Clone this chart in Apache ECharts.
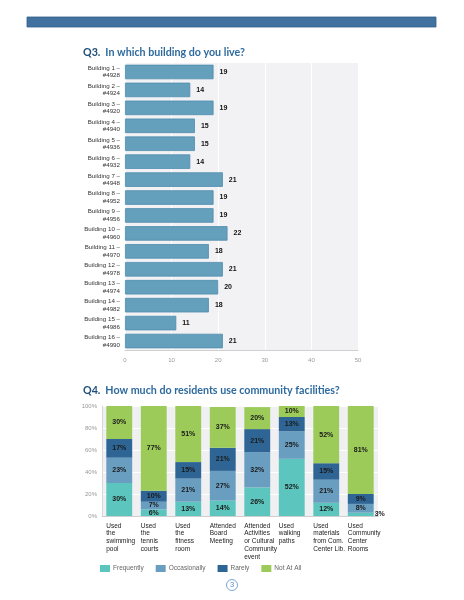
<!DOCTYPE html>
<html><head><meta charset="utf-8">
<script src="https://cdn.jsdelivr.net/npm/echarts@6/dist/echarts.min.js"></script>
<style>html,body{margin:0;padding:0;background:#fff}#c{width:464px;height:600px}</style>
</head><body><div id="c"></div>
<script>
// ---- Q3 data ----
const buildings = ['Building 1 –\n#4928','Building 2 –\n#4924','Building 3 –\n#4920','Building 4 –\n#4940','Building 5 –\n#4936','Building 6 –\n#4932','Building 7 –\n#4948','Building 8 –\n#4952','Building 9 –\n#4956','Building 10 –\n#4960','Building 11 –\n#4970','Building 12 –\n#4978','Building 13 –\n#4974','Building 14 –\n#4982','Building 15 –\n#4986','Building 16 –\n#4990'];
const residents = [19,14,19,15,15,14,21,19,19,22,18,21,20,18,11,21];
const q3Ticks = [0,10,20,30,40,50];

// ---- Q4 data ----
const facilities = ['Used\nthe\nswimming\npool','Used\nthe\ntennis\ncourts','Used\nthe\nfitness\nroom','Attended\nBoard\nMeeting','Attended\nActivities\nor Cultural\nCommunity\nevent','Used\nwalking\npaths','Used\nmaterials\nfrom Com.\nCenter Lib.','Used\nCommunity\nCenter\nRooms'];
const frequently   = [30, 6,13,14,26,52,12, 3];
const occasionally = [23, 7,21,27,32,25,21, 8];
const rarely       = [17,10,15,21,21,13,15, 9];
const notAtAll     = [30,77,51,37,20,10,52,81];
const seriesNames = ['Frequently','Occasionally','Rarely','Not At All'];
const q4Ticks = [0,20,40,60,80,100];

const colors = ['#5CC6BE','#6A9EC0','#2E6594','#9CCB5A'];
const chartFont = 'Liberation Sans';
const lbl = {show:true, position:'inside', formatter:'{c}%', fontFamily:chartFont, fontSize:7, fontWeight:'bold', color:'#1a1a1a'};

const chart = echarts.init(document.getElementById('c'), null, {renderer:'canvas'});
const q4Series = [frequently, occasionally, rarely, notAtAll].map((arr,i)=>({
  name: seriesNames[i], type:'bar', stack:'q4', xAxisIndex:1, yAxisIndex:1,
  barCategoryGap:'25%',
  itemStyle:{color:colors[i]},
  label: lbl,
  data: arr.map((v,j)=> (i===0 && j===7) ? {value:v, label:{position:'right', distance:1}} : v)
}));

const titleRich = {b:{fontFamily:'Lato',fontSize:10.7,fontWeight:'bold',color:'#1F4E79'},n:{fontFamily:'Lato',fontSize:10.7,color:'#2E6A9E'}};

chart.setOption({
  animation:false,
  backgroundColor:'#fff',
  title:[
    {text:'{b|Q3.} {n|In which building do you live?}', left:83, top:44, padding:0, textStyle:{rich:titleRich}},
    {text:'{b|Q4.} {n|How much do residents use community facilities?}', left:83, top:382, padding:0, textStyle:{rich:titleRich}}
  ],
  legend:{
    data:seriesNames, left:100, top:565, padding:0, itemWidth:10, itemHeight:7, itemGap:12,
    icon:'rect',
    textStyle:{fontFamily:chartFont, fontSize:6.5, color:'#666', padding:[0,0,0,-2]}
  },
  grid:[
    {left:125, top:63, width:233, height:287, show:true, backgroundColor:'#F2F2F5', borderWidth:0},
    {left:102, top:406, width:276, height:110, show:true, backgroundColor:'#F0F0F3', borderWidth:0}
  ],
  xAxis:[
    {type:'value', gridIndex:0, min:q3Ticks[0], max:q3Ticks[q3Ticks.length-1], interval:10,
     axisLine:{show:true, lineStyle:{color:'#d0d0d0'}}, axisTick:{show:false},
     splitLine:{show:true, lineStyle:{color:'#ffffff', width:1}},
     axisLabel:{fontFamily:chartFont, fontSize:6, color:'#999', margin:7}},
    {type:'category', gridIndex:1, data:facilities,
     axisLine:{show:true, lineStyle:{color:'#cfcfcf'}}, axisTick:{show:false},
     axisLabel:{interval:0, margin:6, align:'center', color:'#222', fontFamily:chartFont, fontSize:6.5, lineHeight:7.8,
       formatter:v=>v.split('\n').map(s=>'{a|'+s+'}').join('\n'),
       rich:{a:{align:'left', width:26, fontFamily:chartFont, fontSize:6.5, lineHeight:7.8, color:'#222'}}}}
  ],
  yAxis:[
    {type:'category', gridIndex:0, inverse:true, data:buildings,
     axisLine:{show:false}, axisTick:{show:false},
     axisLabel:{fontFamily:chartFont, fontSize:6.2, lineHeight:7.6, color:'#333', margin:5, align:'right'}},
    {type:'value', gridIndex:1, min:q4Ticks[0], max:q4Ticks[q4Ticks.length-1], interval:20,
     axisLine:{show:true, lineStyle:{color:'#d8d8d8'}}, axisTick:{show:false},
     splitLine:{show:true, lineStyle:{color:'#ffffff'}},
     axisLabel:{formatter:'{value}%', fontFamily:chartFont, fontSize:6, color:'#999', margin:5}}
  ],
  series:[
    {type:'bar', xAxisIndex:0, yAxisIndex:0, data:residents, barCategoryGap:'19%',
     itemStyle:{color:'#649FBC', borderColor:'#4F8DAD', borderWidth:0.8},
     label:{show:true, position:'right', distance:6, fontFamily:chartFont, fontSize:7, fontWeight:'bold', color:'#111'}},
    ...q4Series
  ],
  graphic:[
    {type:'rect', shape:{x:27, y:17, width:409, height:10}, style:{fill:'#42729F', stroke:'#2F5F8C', lineWidth:0.8}},
    {type:'circle', shape:{cx:232, cy:585, r:5.5}, style:{fill:'#fff', stroke:'#5B8FC7', lineWidth:0.8}},
    {type:'text', x:232, y:585, style:{text:'3', fontFamily:chartFont, fontSize:7.5, fill:'#5B8FC7', align:'center', verticalAlign:'middle'}}
  ]
});
</script>
</body></html>
